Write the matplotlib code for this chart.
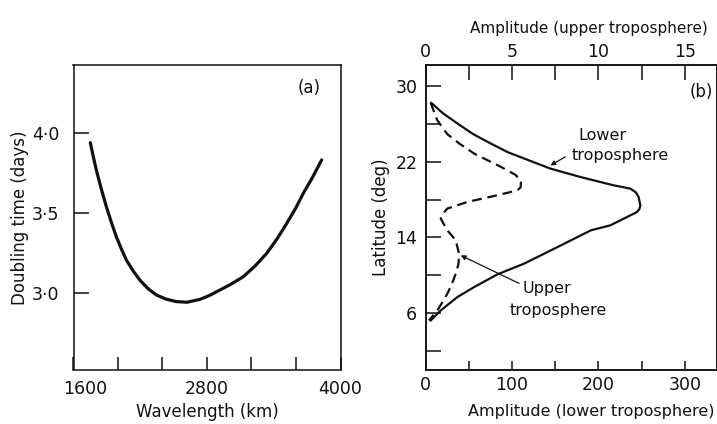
import matplotlib
matplotlib.use("Agg")
import matplotlib.pyplot as plt
import matplotlib.transforms as mtransforms
from matplotlib.ticker import FixedLocator

plt.rcParams['font.family'] = ['DejaVu Sans']

# ---------------- data: panel (a) ----------------
wavelength_km = [1751, 1778, 1805, 1850, 1895, 1940, 1985, 2030, 2075, 2135,
                 2195, 2270, 2344, 2430, 2524, 2620, 2737, 2820, 2917, 3020,
                 3126, 3230, 3337, 3430, 3517, 3595, 3666, 3750, 3831]
doubling_days = [3.941, 3.853, 3.770, 3.650, 3.540, 3.442, 3.351, 3.275, 3.205,
                 3.138, 3.080, 3.025, 2.986, 2.960, 2.944, 2.940, 2.958, 2.982,
                 3.017, 3.055, 3.100, 3.166, 3.247, 3.338, 3.435, 3.527, 3.624,
                 3.725, 3.833]
a_xticks = [1600, 2800, 4000]
a_xticks_minor = [2000, 2400, 3200, 3600]
a_xticklabels = ["1600", "2800", "4000"]
a_yticks = [3.0, 3.5, 4.0]
a_yticklabels = ["3·0", "3·5", "4·0"]

# ---------------- data: panel (b) ----------------
lower_lat = [28.20, 27.1, 26.03, 24.9, 23.91, 23.0, 22.33, 21.27, 20.38, 19.50,
             19.15, 18.75, 18.27, 17.39, 17.0, 16.68, 16.15, 15.27, 14.75,
             12.98, 11.23, 10.10, 8.75, 7.70, 6.29, 5.23]
lower_amp = [6.5, 20.0, 36.7, 55.0, 75.4, 95.0, 114.0, 144.2, 179.0, 217.6,
             237.0, 243.5, 246.6, 248.6, 247.6, 244.8, 233.2, 213.8, 191.4,
             152.7, 114.0, 83.1, 56.0, 36.7, 17.4, 5.8]
upper_lat = [28.20, 26.37, 24.9, 23.9, 22.8, 21.5, 20.6, 20.0, 19.3, 18.97,
             18.45, 17.74, 17.04, 16.4, 15.98, 14.75, 13.69, 12.28, 11.2,
             10.17, 9.0, 8.05, 7.1, 6.29, 5.23]
upper_amp = [0.29, 0.67, 1.25, 1.95, 2.85, 4.3, 5.2, 5.52, 5.5, 5.31,
             4.15, 2.41, 1.25, 0.95, 0.87, 1.25, 1.74, 1.93, 1.9,
             1.74, 1.5, 1.25, 0.95, 0.67, 0.19]
b_yticks = [6, 14, 22, 30]
b_yticks_minor = [2, 10, 18, 26]
b_xticks = [0, 100, 200, 300]
b_xticks_minor = [50, 150, 250]
b_top_ticks = [0, 5, 10, 15]
b_top_ticks_minor = [2.5, 7.5, 12.5]

W, H = 717, 424
fig = plt.figure(figsize=(W / 100, H / 100), dpi=100)
fig.patch.set_facecolor('white')

ink = '#111111'
spine_lw = 1.1

def px_box(x0, y0, x1, y1):
    return [x0 / W, 1 - y1 / H, (x1 - x0) / W, (y1 - y0) / H]

# ---------------- panel (a) ----------------
axa = fig.add_axes(px_box(73.5, 65, 340.5, 370))
axa.plot(wavelength_km, doubling_days, color=ink, lw=2.3,
         solid_capstyle='round', solid_joinstyle='round')
axa.set_xlim(1600, 4000)
axa.set_ylim(2.515, 4.428)
axa.xaxis.set_major_locator(FixedLocator(a_xticks))
axa.xaxis.set_minor_locator(FixedLocator(a_xticks_minor))
axa.set_xticklabels(a_xticklabels)
axa.yaxis.set_major_locator(FixedLocator(a_yticks))
axa.set_yticklabels(a_yticklabels)
axa.tick_params(axis='x', which='both', direction='in', length=9.4, width=1.1,
                colors=ink, labelsize=12.5, pad=7, top=False)
axa.tick_params(axis='y', which='both', direction='in', length=11, width=1.1,
                colors=ink, labelsize=12.5, pad=10, right=False)
axa.set_xlabel("Wavelength (km)", fontsize=12, color=ink, labelpad=4)
axa.set_ylabel("Doubling time (days)", fontsize=12, color=ink, labelpad=2)
for s in axa.spines.values():
    s.set_linewidth(spine_lw)
    s.set_color(ink)
axa.text(3722, 4.281, "(a)", fontsize=12, ha='center', va='center', color=ink)

# ---------------- panel (b) ----------------
axb = fig.add_axes(px_box(425.7, 65, 717.5, 370))
axb.plot(lower_amp, lower_lat, color=ink, lw=1.6, solid_joinstyle='round')
axb.set_xlim(0, 338)
axb.set_ylim(0, 32.2)
axb.xaxis.set_major_locator(FixedLocator(b_xticks))
axb.xaxis.set_minor_locator(FixedLocator(b_xticks_minor))
axb.yaxis.set_major_locator(FixedLocator(b_yticks))
axb.yaxis.set_minor_locator(FixedLocator(b_yticks_minor))
axb.tick_params(axis='x', which='both', direction='in', length=6.5, width=1.1,
                colors=ink, labelsize=12.5, pad=4, top=False)
axb.tick_params(axis='y', which='both', direction='in', length=11, width=1.1,
                colors=ink, labelsize=12.5, pad=6, right=False)
axb.set_xlabel("Amplitude (lower troposphere)", fontsize=11.5, color=ink)
axb.xaxis.set_label_coords((591 - 425.7) / (717.5 - 425.7), -0.11)
axb.set_ylabel("Latitude (deg)", fontsize=12, color=ink, labelpad=4)
for s in axb.spines.values():
    s.set_linewidth(spine_lw)
    s.set_color(ink)

ax2 = axb.twiny()
ax2.plot(upper_amp, upper_lat, color=ink, lw=1.6, linestyle=(0, (4.4, 2.6)),
         dash_joinstyle='round')
ax2.set_xlim(0, 338 / 20)
ax2.xaxis.set_major_locator(FixedLocator(b_top_ticks))
ax2.xaxis.set_minor_locator(FixedLocator(b_top_ticks_minor))
ax2.tick_params(axis='x', which='both', direction='in', length=11, width=1.1,
                colors=ink, labelsize=12.5, pad=3)
ax2.set_xlabel("Amplitude (upper troposphere)", fontsize=11, color=ink)
ax2.xaxis.set_label_coords((588.5 - 425.7) / (717.5 - 425.7), 1.105)
for s in ax2.spines.values():
    s.set_linewidth(spine_lw)
    s.set_color(ink)

axb.text(319.7, 29.4, "(b)", fontsize=12, ha='center', va='center', color=ink)

# annotations
axb.annotate("", xy=(144.5, 21.6), xytext=(161.6, 22.5),
             arrowprops=dict(arrowstyle='-|>', color=ink, lw=0.9,
                             mutation_scale=7, shrinkA=0, shrinkB=0))
axb.text(204.2, 24.78, "Lower", fontsize=11.5, ha='center', va='center', color=ink)
axb.text(225.4, 22.67, "troposphere", fontsize=11.5, ha='center', va='center', color=ink)

axb.annotate("", xy=(40.6, 12.1), xytext=(108.2, 9.14),
             arrowprops=dict(arrowstyle='-|>', color=ink, lw=0.9,
                             mutation_scale=7, shrinkA=0, shrinkB=0))
axb.text(140.1, 8.61, "Upper", fontsize=11.5, ha='center', va='center', color=ink)
axb.text(153.5, 6.29, "troposphere", fontsize=11.5, ha='center', va='center', color=ink)

# shift the "1600" label slightly right as in the reference
for tick in axa.xaxis.get_major_ticks():
    if tick.get_loc() == 1600:
        tick.label1.set_transform(tick.label1.get_transform() +
                                  mtransforms.ScaledTranslation(12 / 100, 0, fig.dpi_scale_trans))

fig.savefig("out.png", dpi=100, facecolor='white')
